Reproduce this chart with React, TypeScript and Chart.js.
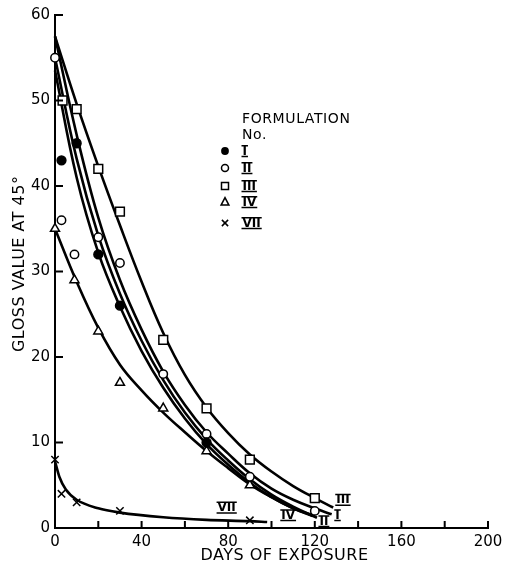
import React, { useEffect, useRef } from 'react';
import { Chart, registerables } from 'chart.js';

Chart.register(...registerables);

// ---- measured data points (days, gloss value at 45°) ----
const daysI = [3, 10, 20, 30, 70];
const glossI = [43, 45, 32, 26, 10];
const daysII = [0, 3, 9, 20, 30, 50, 70, 90, 120];
const glossII = [55, 36, 32, 34, 31, 18, 11, 6, 2];
const daysIII = [3.5, 10, 20, 30, 50, 70, 90, 120];
const glossIII = [50, 49, 42, 37, 22, 14, 8, 3.5];
const daysIV = [0, 9, 20, 30, 50, 70, 90];
const glossIV = [35, 29, 23, 17, 14, 9, 5];
const daysVII = [0, 3, 10, 30, 90];
const glossVII = [8, 4, 3, 2, 0.9];

// ---- fitted curves ----
const curveDaysIII = [0, 10, 20, 30, 40, 50, 60, 70, 80, 90, 100, 110, 120, 128.5];
const curveGlossIII = [57.5, 49.6, 42.3, 35.4, 28.8, 22.8, 17.9, 14.1, 11.1, 8.6, 6.6, 4.9, 3.5, 2.4];
const curveDaysI = [0, 10, 20, 30, 40, 50, 60, 70, 80, 90, 100, 110, 120, 127.8];
const curveGlossI = [57.5, 46, 36.3, 29, 23.2, 18.3, 14.4, 11.2, 8.7, 6.4, 4.6, 3.3, 2.3, 1.6];
const curveDaysII = [0, 10, 20, 30, 40, 50, 60, 70, 80, 90, 100, 110, 121];
const curveGlossII = [55, 43.2, 34.2, 27.4, 21.9, 17.3, 13.5, 10.4, 7.9, 5.7, 3.9, 2.5, 1.2];
const curveDaysAlt = [0, 10, 20, 30, 40, 50, 60, 70, 80, 90, 100, 110, 120];
const curveGlossAlt = [53.5, 41, 32.2, 25.9, 20.7, 16.4, 12.8, 9.8, 7.4, 5.3, 3.6, 2.3, 1.4];
const curveDaysIV = [0, 10, 20, 30, 40, 50, 60, 70, 80, 90, 100, 110, 119];
const curveGlossIV = [35, 28.8, 23.4, 19.1, 16.1, 13.5, 11.2, 9, 7, 5.1, 3.6, 2.3, 1.4];
const curveDaysVII = [0, 2, 5, 10, 20, 30, 50, 70, 90, 98];
const curveGlossVII = [7.8, 6, 4.5, 3.3, 2.3, 1.8, 1.25, 0.95, 0.8, 0.7];

// ---- text ----
const seriesNames = ['I', 'II', 'III', 'IV', 'VII'];
const endLabels = ['III', 'I', 'II', 'IV', 'VII'];
const endLabelDays = [133, 130.5, 124.2, 107.7, 79.3];
const endLabelGloss = [3.3, 1.5, 0.8, 1.5, 2.4];
const xTitle = 'DAYS OF EXPOSURE';
const yTitle = 'GLOSS VALUE AT 45°';
const legendTitle = ['FORMULATION', 'No.'];

const pts = (d: number[], g: number[]) => d.map((v, i) => ({ x: v, y: g[i] }));

const FONT = '"DejaVu Sans", sans-serif';

function drawRoman(ctx: CanvasRenderingContext2D, text: string, cx: number, cy: number, align: 'left' | 'center') {
  ctx.save();
  ctx.font = `bold 12px ${FONT}`;
  ctx.textBaseline = 'middle';
  ctx.textAlign = 'left';
  (ctx as any).letterSpacing = '0px';
  const w = ctx.measureText(text).width;
  const x0 = align === 'center' ? cx - w / 2 : cx;
  ctx.fillStyle = '#000';
  ctx.fillText(text, x0, cy + 0.5);
  ctx.strokeStyle = '#000';
  ctx.lineWidth = 1.5;
  ctx.beginPath();
  ctx.moveTo(x0 - 1, cy - 5.2);
  ctx.lineTo(x0 + w + 1, cy - 5.2);
  ctx.moveTo(x0 - 1, cy + 5.4);
  ctx.lineTo(x0 + w + 1, cy + 5.4);
  ctx.stroke();
  ctx.restore();
}

function drawMarker(ctx: CanvasRenderingContext2D, kind: string, x: number, y: number, s: number) {
  ctx.save();
  ctx.strokeStyle = '#000';
  ctx.fillStyle = '#fff';
  ctx.lineWidth = 1.5;
  ctx.beginPath();
  if (kind === 'filled') {
    ctx.fillStyle = '#000';
    ctx.arc(x, y, s, 0, Math.PI * 2);
    ctx.fill();
  } else if (kind === 'circle') {
    ctx.arc(x, y, s * 0.9, 0, Math.PI * 2);
    ctx.fill();
    ctx.stroke();
  } else if (kind === 'rect') {
    ctx.rect(x - s * 0.9, y - s * 0.9, 1.8 * s, 1.8 * s);
    ctx.fill();
    ctx.stroke();
  } else if (kind === 'triangle') {
    ctx.moveTo(x, y - s * 1.1);
    ctx.lineTo(x + s, y + s * 0.8);
    ctx.lineTo(x - s, y + s * 0.8);
    ctx.closePath();
    ctx.fill();
    ctx.stroke();
  } else {
    ctx.moveTo(x - s * 0.8, y - s * 0.8);
    ctx.lineTo(x + s * 0.8, y + s * 0.8);
    ctx.moveTo(x + s * 0.8, y - s * 0.8);
    ctx.lineTo(x - s * 0.8, y + s * 0.8);
    ctx.stroke();
  }
  ctx.restore();
}

const overlayPlugin = {
  id: 'overlay',
  afterDraw(chart: any) {
    const { ctx, chartArea: ca, scales } = chart;
    const xs = scales.x;
    const ys = scales.y;
    ctx.save();
    ctx.strokeStyle = '#000';
    ctx.lineWidth = 2;
    // inward tick marks
    ctx.beginPath();
    ys.ticks.forEach((t: any) => {
      const py = ys.getPixelForValue(t.value);
      ctx.moveTo(ca.left, py);
      ctx.lineTo(ca.left + 8, py);
    });
    xs.ticks.forEach((t: any) => {
      const px = xs.getPixelForValue(t.value);
      ctx.moveTo(px, ca.bottom);
      ctx.lineTo(px, ca.bottom - 7);
    });
    ctx.stroke();

    // axis titles
    ctx.fillStyle = '#000';
    ctx.font = `16px ${FONT}`;
    (ctx as any).letterSpacing = '0.5px';
    ctx.textAlign = 'center';
    ctx.textBaseline = 'middle';
    ctx.fillText(xTitle, ca.left + (ca.right - ca.left) * 0.53, ca.bottom + 28);
    ctx.save();
    ctx.translate(19.5, ca.top + (ca.bottom - ca.top) * 0.485);
    ctx.rotate(-Math.PI / 2);
    ctx.fillText(yTitle, 0, 0);
    ctx.restore();

    // legend
    const lx = ca.left + 170;
    const ly = ca.top + 104;
    ctx.font = `14px ${FONT}`;
    (ctx as any).letterSpacing = '0.6px';
    ctx.textAlign = 'left';
    ctx.fillText(legendTitle[0], lx + 17, ly);
    ctx.fillText(legendTitle[1], lx + 17, ly + 16);
    (ctx as any).letterSpacing = '0px';
    const kinds = ['filled', 'circle', 'rect', 'triangle', 'cross'];
    const rowY = [32, 49, 67, 83, 104];
    seriesNames.forEach((name, i) => {
      const ry = ly + rowY[i];
      drawMarker(ctx, kinds[i], lx, ry, 3.9);
      drawRoman(ctx, name, lx + 17.5, ry, 'left');
    });

    // curve end labels
    endLabels.forEach((lab, i) => {
      drawRoman(ctx, lab, xs.getPixelForValue(endLabelDays[i]), ys.getPixelForValue(endLabelGloss[i]), 'center');
    });
    ctx.restore();
  },
};

export default function App() {
  const ref = useRef<HTMLCanvasElement>(null);

  useEffect(() => {
    if (!ref.current) return;
    const pointBase = {
      showLine: false,
      borderColor: '#000',
      pointBorderWidth: 1.5,
      clip: false as any,
    };
    const curveBase = {
      showLine: true,
      borderColor: '#000',
      borderWidth: 2.6,
      pointRadius: 0,
      pointHoverRadius: 0,
      tension: 0.4,
      clip: false as any,
    };
    const chart = new Chart(ref.current, {
      type: 'scatter',
      data: {
        datasets: [
          { ...pointBase, label: 'I', data: pts(daysI, glossI), pointStyle: 'circle', pointRadius: 4.4, backgroundColor: '#000' },
          { ...pointBase, label: 'II', data: pts(daysII, glossII), pointStyle: 'circle', pointRadius: 4.2, backgroundColor: '#fff' },
          { ...pointBase, label: 'III', data: pts(daysIII, glossIII), pointStyle: 'rect', pointRadius: 6.2, backgroundColor: '#fff' },
          { ...pointBase, label: 'IV', data: pts(daysIV, glossIV), pointStyle: 'triangle', pointRadius: 5.2, backgroundColor: '#fff' },
          { ...pointBase, label: 'VII', data: pts(daysVII, glossVII), pointStyle: 'crossRot', pointRadius: 5.2, backgroundColor: '#fff' },
          { ...curveBase, label: 'III fit', data: pts(curveDaysIII, curveGlossIII) },
          { ...curveBase, label: 'I fit', data: pts(curveDaysI, curveGlossI) },
          { ...curveBase, label: 'II fit', data: pts(curveDaysII, curveGlossII) },
          { ...curveBase, label: 'fit', data: pts(curveDaysAlt, curveGlossAlt) },
          { ...curveBase, label: 'IV fit', data: pts(curveDaysIV, curveGlossIV) },
          { ...curveBase, label: 'VII fit', data: pts(curveDaysVII, curveGlossVII), tension: 0, cubicInterpolationMode: 'monotone' as const },
        ],
      },
      options: {
        responsive: false,
        animation: false,
        devicePixelRatio: 1,
        layout: { padding: { left: 0, right: 25, top: 15, bottom: 0 } },
        plugins: { legend: { display: false }, tooltip: { enabled: false }, title: { display: false } },
        scales: {
          x: {
            type: 'linear',
            min: 0,
            max: 200,
            afterFit: (s: any) => { s.height = 36; },
            border: { display: true, color: '#000', width: 2 },
            grid: { drawOnChartArea: false, drawTicks: false, color: '#000' },
            ticks: {
              stepSize: 20,
              autoSkip: false,
              maxRotation: 0,
              padding: 5,
              color: '#000',
              font: { family: FONT, size: 15 },
              callback: (v: any) => (Number(v) % 40 === 0 ? String(v) : ''),
            },
          },
          y: {
            type: 'linear',
            min: 0,
            max: 60,
            afterFit: (s: any) => { s.width = 55; },
            border: { display: true, color: '#000', width: 2 },
            grid: { drawOnChartArea: false, drawTicks: false, color: '#000' },
            ticks: {
              stepSize: 10,
              padding: 5,
              color: '#000',
              font: { family: FONT, size: 15 },
            },
          },
        },
      },
      plugins: [overlayPlugin],
    });
    return () => chart.destroy();
  }, []);

  return (
    <div style={{ position: 'absolute', left: 0, top: 0, width: 513, height: 564, background: '#fff' }}>
      <canvas ref={ref} width={513} height={564} style={{ width: 513, height: 564 }} />
    </div>
  );
}
